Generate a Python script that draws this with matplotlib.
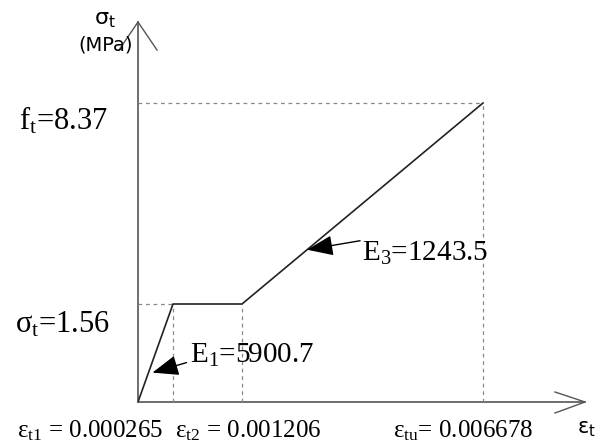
import numpy as np
import matplotlib
matplotlib.use('Agg')
import matplotlib.pyplot as plt
from matplotlib.scale import FuncScale

plt.rcParams['mathtext.fontset'] = 'custom'
plt.rcParams['mathtext.rm'] = 'Liberation Serif'
plt.rcParams['mathtext.it'] = 'Liberation Serif:italic'

# tension stress-strain law (schematic, not to scale)
strain = [0.0, 0.000265, 0.001206, 0.006678]
stress = [0.0, 1.56, 1.56, 8.37]
strain_names = ['t1', 't2', 'tu']
E1 = 5900.7
E3 = 1243.5

# schematic axis: piecewise linear scales (pixel length of each segment)
x_knots, x_pix = [0.0, 0.000265, 0.001206, 0.006678], [0, 35, 104, 345]
y_knots, y_pix = [0.0, 1.56, 8.37], [0, 98, 299]


def piecewise(src, dst):
    src, dst = np.asarray(src, float), np.asarray(dst, float)
    def f(v):
        v = np.asarray(v, float)
        out = np.interp(v, src, dst)
        s_hi = (dst[-1] - dst[-2]) / (src[-1] - src[-2])
        s_lo = (dst[1] - dst[0]) / (src[1] - src[0])
        out = np.where(v > src[-1], dst[-1] + (v - src[-1]) * s_hi, out)
        out = np.where(v < src[0], dst[0] + (v - src[0]) * s_lo, out)
        return out
    return f


fx, ix = piecewise(x_knots, x_pix), piecewise(x_pix, x_knots)
fy, iy = piecewise(y_knots, y_pix), piecewise(y_pix, y_knots)

W, H = 598, 444
fig = plt.figure(figsize=(W / 100, H / 100), dpi=100)
ax = fig.add_axes([138 / W, 42 / H, 447 / W, 380 / H])
ax.set_xscale(FuncScale(ax, (fx, ix)))
ax.set_yscale(FuncScale(ax, (fy, iy)))
ax.set_xlim(0, float(ix(447)))
ax.set_ylim(0, float(iy(380)))
ax.axis('off')

# axes with open arrow heads
ax.plot([0, 1], [0, 0], transform=ax.transAxes, color='#555555', lw=1.2, clip_on=False)
ax.plot([0, 0], [0, 1], transform=ax.transAxes, color='#555555', lw=1.2, clip_on=False)
ax.plot([1 - 30 / 447, 1, 1 - 30 / 447], [10 / 380, 0, -11 / 380],
        transform=ax.transAxes, color='#555555', lw=1.0, clip_on=False)
ax.plot([-19 / 447, 0, 19 / 447], [1 - 28 / 380, 1, 1 - 28 / 380],
        transform=ax.transAxes, color='#555555', lw=1.0, clip_on=False)

# guide lines
dash = dict(color='#888888', lw=0.9, ls=(0, (3, 3)))
ax.plot([0, strain[1]], [stress[1], stress[1]], **dash)
ax.plot([strain[1], strain[1]], [0, stress[1]], **dash)
ax.plot([strain[2], strain[2]], [0, stress[2]], **dash)
ax.plot([0, strain[3]], [stress[3], stress[3]], **dash)
ax.plot([strain[3], strain[3]], [0, stress[3]], **dash)

# the law itself
ax.plot(strain, stress, color='#222222', lw=1.2, solid_joinstyle='miter')

serif = dict(family='Liberation Serif', color='black')

# stress labels
ax.annotate(r'f$\mathrm{_t}$=%.2f' % stress[3], xy=(0, stress[3]), xycoords=('axes fraction', 'data'),
            xytext=(-30, -18), textcoords='offset pixels', ha='right', va='center', fontsize=22, **serif)
ax.annotate(r'$\mathrm{σ_t}$=%.2f' % stress[1], xy=(0, stress[1]), xycoords=('axes fraction', 'data'),
            xytext=(-28, -21), textcoords='offset pixels', ha='right', va='center', fontsize=22, **serif)

# strain labels
offs = [-156, -67, -90]
for e, name, dx in zip(strain[1:], strain_names, offs):
    eq = ' = ' if name != 'tu' else '= '
    ax.annotate(r'$\mathrm{ε_{%s}}$%s%s' % (name, eq, ('%.6f' % e)), xy=(e, 0),
                xycoords=('data', 'axes fraction'), xytext=(dx, -29), textcoords='offset pixels',
                ha='left', va='center', fontsize=18, **serif, annotation_clip=False)

# axis titles
ax.text(-0.075, 1.005, r'$\mathrm{σ_t}$', transform=ax.transAxes, ha='center', va='center',
        fontsize=16, math_fontfamily='dejavusans')
ax.text(-0.072, 0.94, '(MPa)', transform=ax.transAxes, ha='center', va='center',
        fontsize=14, family='DejaVu Sans')
ax.text(1.025, -0.07, r'$\mathrm{ε_t}$', transform=ax.transAxes, ha='right', va='center',
        fontsize=15, math_fontfamily='dejavusans')

# modulus call-outs
t1, t3 = 0.3, 0.27
tip1 = (t1 * strain[1], t1 * stress[1])
tip3 = (strain[2] + t3 * (strain[3] - strain[2]), stress[2] + t3 * (stress[3] - stress[2]))
arrow = dict(arrowstyle='-|>,head_length=0.9,head_width=0.35', color='black', lw=1.0,
             shrinkA=0, shrinkB=0, mutation_scale=18)
ax.annotate('', xy=(tip1[0] + 0.00003, tip1[1]), xytext=(34, 10), textcoords='offset pixels',
            arrowprops=arrow, annotation_clip=False)
ax.annotate(r'E$\mathrm{_1}$=%.1f' % E1, xy=tip1, xytext=(42, 17), textcoords='offset pixels',
            ha='left', va='center', fontsize=21, **serif)
ax.annotate('', xy=tip3, xytext=(53, 9), textcoords='offset pixels', arrowprops=arrow)
ax.annotate(r'E$\mathrm{_3}$=%.1f' % E3, xy=tip3, xytext=(55, -4), textcoords='offset pixels',
            ha='left', va='center', fontsize=21, **serif)

fig.savefig('out.png', dpi=100)
